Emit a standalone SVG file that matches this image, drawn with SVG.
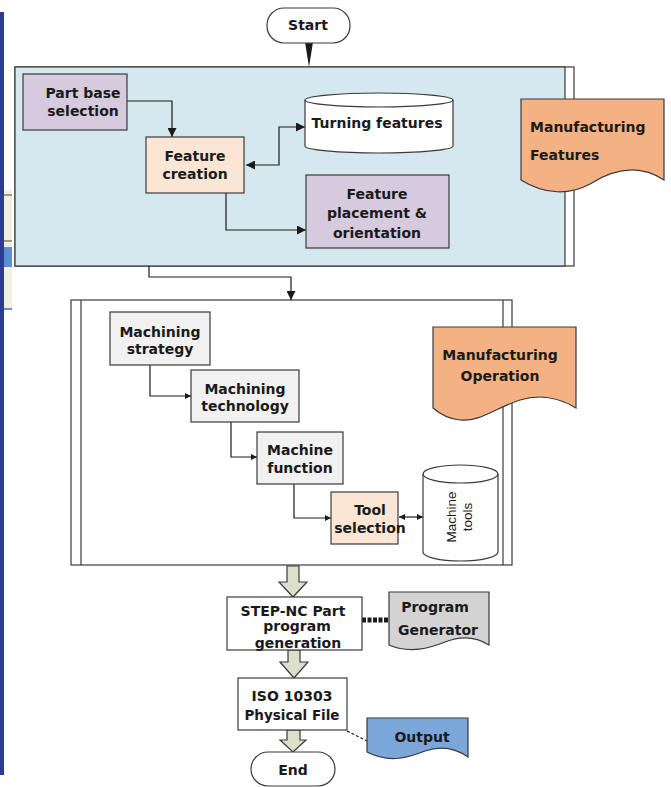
<svg xmlns="http://www.w3.org/2000/svg" width="671" height="787" viewBox="0 0 671 787">
<style>
text{font-family:"DejaVu Sans","Liberation Sans",sans-serif;font-weight:bold;font-size:14px;fill:#1a1a1a;text-anchor:middle}
.box{stroke:#3a3a3a;stroke-width:1.2}
.ln{fill:none;stroke:#1a1a1a;stroke-width:1.2}
.lav{fill:#d5cade}
.peach{fill:#fbe6d6}
.gray{fill:#f1f1f1}
.orange{fill:#f4b183;stroke:#3a3a3a;stroke-width:1.2}
.blk{fill:#dcdfc9;stroke:#3a3a3a;stroke-width:1.2}
.rot{font-family:"Liberation Sans",Arial,sans-serif;font-weight:normal;font-size:13.5px}
</style>
<defs>
<marker id="ah" viewBox="0 0 10 10" refX="10" refY="5" markerWidth="9" markerHeight="9" markerUnits="userSpaceOnUse" orient="auto-start-reverse">
<path d="M0,0 L10,5 L0,10 Z" fill="#1a1a1a"/>
</marker>
<marker id="ahs" viewBox="0 0 10 10" refX="10" refY="5" markerWidth="6" markerHeight="6" markerUnits="userSpaceOnUse" orient="auto-start-reverse">
<path d="M0,0 L10,5 L0,10 Z" fill="#1a1a1a"/>
</marker>
</defs>
<rect width="671" height="787" fill="#ffffff"/>
<!-- left screenshot edge -->
<g id="edge">
<rect x="0" y="12" width="4" height="763" fill="#2b3a92"/>
<rect x="4" y="190" width="8" height="120" fill="#f2efe2"/>
<rect x="4" y="194" width="8" height="2" fill="#9a9a8a"/>
<rect x="4" y="240" width="8" height="2" fill="#9a9a8a"/>
<rect x="4" y="247" width="8" height="20" fill="#5b8fd0"/>
<rect x="4" y="308" width="8" height="2" fill="#6a8fd0"/>
</g>

<!-- containers -->
<g id="panel-features">
<rect x="15" y="67" width="559" height="199" fill="#ffffff" stroke="#3a3a3a" stroke-width="1.2"/>
<rect x="15" y="67" width="550" height="199" fill="#d5e8ef" stroke="#3a3a3a" stroke-width="1.2"/>
</g>
<g id="panel-operation">
<rect x="71" y="300" width="441" height="265" fill="#ffffff" stroke="#3a3a3a" stroke-width="1.2"/>
<line x1="81" y1="300" x2="81" y2="565" stroke="#3a3a3a" stroke-width="1.2"/>
<line x1="503" y1="300" x2="503" y2="565" stroke="#3a3a3a" stroke-width="1.2"/>
</g>

<g id="connectors">
<polygon points="305,42 313,42 309,67" fill="#1a1a1a"/>
<polyline class="ln" points="127,101 172,101 172,137" marker-end="url(#ah)"/>
<polyline class="ln" points="246,165 279,165 279,127 305,127" marker-start="url(#ah)" marker-end="url(#ah)"/>
<polyline class="ln" points="226,193 226,230 306,230" marker-end="url(#ah)"/>
<polyline class="ln" points="149,266 149,277 291,277 291,300" marker-end="url(#ah)"/>
<polyline class="ln" points="150,365 150,396 191,396" marker-end="url(#ahs)"/>
<polyline class="ln" points="231,422 231,457 257,457" marker-end="url(#ahs)"/>
<polyline class="ln" points="294,484 294,518 331,518" marker-end="url(#ahs)"/>
<line class="ln" x1="399" y1="517" x2="423" y2="517" marker-start="url(#ahs)" marker-end="url(#ahs)"/>
<polygon class="blk" points="287,566 299,566 299,582 307,582 293,597 279,582 287,582"/>
<polygon class="blk" points="288,650 300,650 300,662 308,662 294,678 280,662 288,662"/>
<polygon class="blk" points="287,730 300,730 300,740 306,740 293,752 280,740 287,740"/>
<line x1="362" y1="620" x2="389" y2="620" stroke="#1a1a1a" stroke-width="5" stroke-dasharray="4,1.5"/>
<line x1="347" y1="731" x2="367" y2="741" stroke="#1a1a1a" stroke-width="1.2" stroke-dasharray="3,2"/>
</g>

<g id="start">
<rect x="267" y="8" width="83" height="35" rx="17" fill="#ffffff" stroke="#3a3a3a" stroke-width="1.2"/>
<text x="308" y="30">Start</text>
</g>
<g id="part-base">
<rect class="box lav" x="23" y="74" width="104" height="56"/>
<text x="83" y="98">Part base</text>
<text x="83" y="116">selection</text>
</g>
<g id="feature-creation">
<rect class="box peach" x="146" y="137" width="98" height="56"/>
<text x="195" y="161">Feature</text>
<text x="195" y="179">creation</text>
</g>
<g id="turning-features">
<path d="M305,100 A74,7 0 0 1 453,100 L453,146 A74,7 0 0 1 305,146 Z" fill="#ffffff" stroke="#3a3a3a" stroke-width="1.2"/>
<path d="M305,100 A74,7 0 0 0 453,100" fill="none" stroke="#3a3a3a" stroke-width="1.2"/>
<text x="377" y="128">Turning features</text>
</g>
<g id="feature-placement">
<rect class="box lav" x="306" y="175" width="143" height="73"/>
<text x="377" y="199">Feature</text>
<text x="377" y="218">placement &amp;</text>
<text x="377" y="238">orientation</text>
</g>
<g id="manufacturing-features">
<path class="orange" d="M521,99 H664 V180 C640,164 615,168 590,184 C570,195 545,195 521,180 Z"/>
<text x="530" y="132" style="text-anchor:start">Manufacturing</text>
<text x="530" y="160" style="text-anchor:start">Features</text>
</g>

<g id="machining-strategy">
<rect class="box gray" x="110" y="312" width="100" height="53"/>
<text x="160" y="337">Machining</text>
<text x="160" y="354">strategy</text>
</g>
<g id="machining-technology">
<rect class="box gray" x="191" y="370" width="108" height="52"/>
<text x="245" y="394">Machining</text>
<text x="245" y="411">technology</text>
</g>
<g id="machine-function">
<rect class="box gray" x="257" y="432" width="86" height="52"/>
<text x="300" y="455">Machine</text>
<text x="300" y="473">function</text>
</g>
<g id="tool-selection">
<rect class="box peach" x="331" y="492" width="67" height="52"/>
<text x="370" y="515">Tool</text>
<text x="370" y="533">selection</text>
</g>
<g id="machine-tools">
<path d="M423,474 A37.5,9 0 0 1 498,474 L498,552 A37.5,9 0 0 1 423,552 Z" fill="#ffffff" stroke="#3a3a3a" stroke-width="1.2"/>
<path d="M423,474 A37.5,9 0 0 0 498,474" fill="none" stroke="#3a3a3a" stroke-width="1.2"/>
<text class="rot" transform="translate(456,517) rotate(-90)">Machine</text>
<text class="rot" transform="translate(472,517) rotate(-90)">tools</text>
</g>
<g id="manufacturing-operation">
<path class="orange" d="M433,327 H576 V408 C560,398 540,394 520,400 C495,408 480,422 460,420 C448,419 440,414 433,408 Z"/>
<text x="500" y="360">Manufacturing</text>
<text x="500" y="381">Operation</text>
</g>

<g id="step-nc">
<rect x="227" y="597" width="135" height="53" fill="#ffffff" stroke="#3a3a3a" stroke-width="1.2"/>
<text x="293" y="616">STEP-NC Part</text>
<text x="297" y="631">program</text>
<text x="298" y="648">generation</text>
</g>
<g id="program-generator">
<path d="M389,592 H489 V645 C475,636 460,636 445,642 C430,648 410,654 389,645 Z" fill="#d3d3d3" stroke="#3a3a3a" stroke-width="1.2"/>
<text x="435" y="612">Program</text>
<text x="438" y="635">Generator</text>
</g>
<g id="iso-file">
<rect x="238" y="678" width="109" height="52" fill="#ffffff" stroke="#3a3a3a" stroke-width="1.2"/>
<text x="292" y="701">ISO 10303</text>
<text x="292" y="720" style="font-size:13.5px">Physical File</text>
</g>
<g id="output">
<path d="M367,718 H468 V757 C455,748 440,746 425,751 C410,757 390,764 367,752 Z" fill="#7ba6da" stroke="#3a3a3a" stroke-width="1.2"/>
<text x="422" y="742">Output</text>
</g>
<g id="end">
<rect x="251" y="752" width="84" height="34" rx="17" fill="#ffffff" stroke="#3a3a3a" stroke-width="1.2"/>
<text x="293" y="775">End</text>
</g>
</svg>
